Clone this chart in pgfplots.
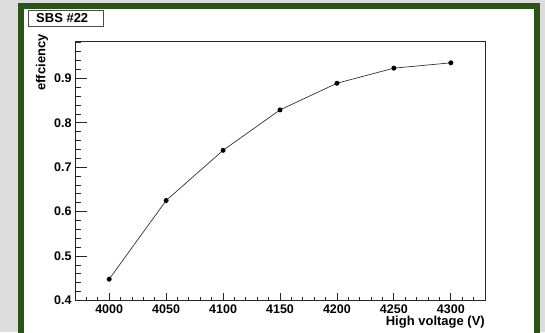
\documentclass[border=0pt]{standalone}
\usepackage{fontspec}
\setmainfont{Liberation Sans}
\usepackage{pgfplots}
\pgfplotsset{compat=1.18}

\definecolor{bgGrey}{RGB}{220,220,220}
\definecolor{frameGreen}{RGB}{40,84,24}

\pgfplotsset{
  rootframe/.style={
    scale only axis,
    width=410pt, height=259pt,
    at={(75pt,31.5pt)}, anchor=south west,
    xmin=3970, xmax=4330,
    ymin=0.4, ymax=0.983,
    axis line style={black!85, line width=0.9pt},
    tick style={black!85, line width=0.8pt},
    tick align=inside,
    /pgf/number format/assume math mode=true,
    /pgf/number format/1000 sep={},
    tick label style={font=\fontsize{12.5}{14}\selectfont\bfseries},
  }
}

\begin{document}
\begin{tikzpicture}
\path[use as bounding box] (0,0) rectangle (545pt,332pt);
\clip (0,0) rectangle (545pt,332pt);
\fill[bgGrey] (0,0) rectangle (545pt,332pt);
\fill[frameGreen] (18pt,-10pt) rectangle (540pt,329pt);
\fill[white] (24pt,-10pt) rectangle (534pt,323pt);

% x ticks (short ones, like ROOT)
\begin{axis}[rootframe,
  xtick={4000,4050,...,4300},
  minor xtick={3980,3990,...,4320},
  xtick pos=left,
  ytick=\empty,
  major tick length=8pt, minor tick length=4pt,
  xticklabel style={yshift=-0.5pt},
]
\end{axis}

% y ticks and the data
\begin{axis}[rootframe,
  xtick=\empty,
  ytick={0.4,0.5,0.6,0.7,0.8,0.9},
  minor ytick={0.42,0.44,...,0.98},
  ytick pos=left,
  major tick length=12pt, minor tick length=6pt,
  yticklabel style={/pgf/number format/.cd, fixed, precision=1, fixed zerofill},
]
\addplot[black!80, line width=0.7pt, mark=*, mark size=2.1pt,
  mark options={black, fill=black}]
coordinates{
(4000, 0.448)
(4050, 0.625)
(4100, 0.738)
(4150, 0.829)
(4200, 0.889)
(4250, 0.923)
(4300, 0.935)
};
\end{axis}

% pad title box
\draw[black!70, line width=0.8pt, fill=white] (28pt,306pt) rectangle (103pt,322pt);
\node[anchor=west, font=\fontsize{13}{15}\selectfont\bfseries, inner sep=0pt]
  at (36pt,314pt) {SBS \#22};

% axis titles
\node[rotate=90, anchor=east, font=\fontsize{13}{15}\selectfont\bfseries, inner sep=0pt]
  at (42pt,298pt) {effciency};
\node[anchor=base east, font=\fontsize{13}{15}\selectfont\bfseries, inner sep=0pt]
  at (485pt,7pt) {High voltage (V)};
\end{tikzpicture}
\end{document}
